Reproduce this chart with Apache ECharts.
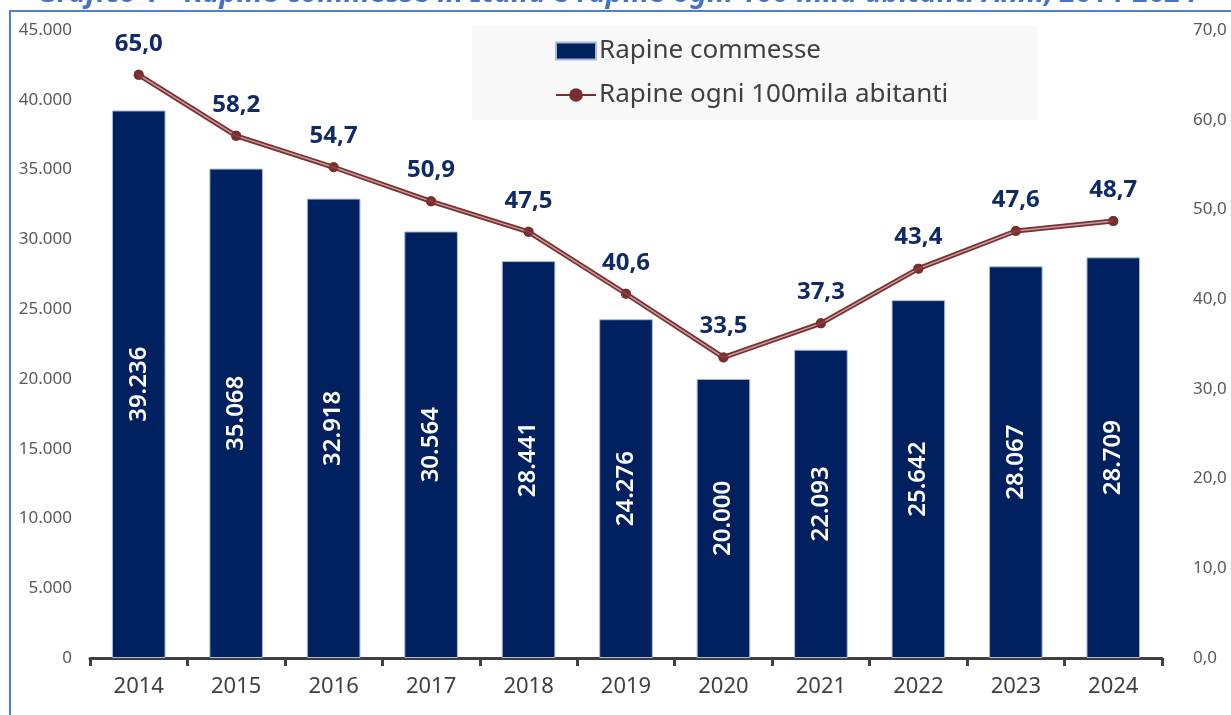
<!DOCTYPE html>
<html>
<head>
<meta charset="utf-8">
<script src="https://cdn.jsdelivr.net/npm/echarts@6/dist/echarts.min.js"></script>
<style>
  html, body { margin: 0; padding: 0; background: #fff; }
  #chart { width: 1231px; height: 715px; }
</style>
</head>
<body>
<div id="chart"></div>
<script>
// dati
var anni = ['2014', '2015', '2016', '2017', '2018', '2019', '2020', '2021', '2022', '2023', '2024'];
var rapineCommesse = [39236, 35068, 32918, 30564, 28441, 24276, 20000, 22093, 25642, 28067, 28709];
var rapineOgni100mila = [65.0, 58.2, 54.7, 50.9, 47.5, 40.6, 33.5, 37.3, 43.4, 47.6, 48.7];

var titolo = 'Grafico 1 - Rapine commesse in Italia e rapine ogni 100 mila abitanti Anni, 2014-2024';

var font = '"Noto Sans", "Open Sans", sans-serif';

function migliaia(v) {
  return String(v).replace(/\B(?=(\d{3})+(?!\d))/g, '.');
}
function decimale(v) {
  return Number(v).toFixed(1).replace('.', ',');
}

var myChart = echarts.init(document.getElementById('chart'));

var option = {
  backgroundColor: '#fff',
  animation: false,
  textStyle: { fontFamily: font },
  graphic: [
    {
      type: 'rect',
      shape: { x: 10, y: 11, width: 1300, height: 800 },
      style: { fill: 'none', stroke: '#4f7fd1', lineWidth: 2 },
      silent: true
    },
    {
      type: 'text',
      x: 37,
      y: 8,
      style: {
        text: titolo,
        fill: '#4472c4',
        font: 'italic bold 29px ' + font,
        verticalAlign: 'bottom'
      },
      silent: true
    }
  ],
  legend: {
    orient: 'vertical',
    left: 472,
    top: 26,
    backgroundColor: '#f8f8f8',
    padding: [12, 89, 12, 83],
    itemGap: 18,
    itemWidth: 40,
    itemHeight: 17,
    data: [
      { name: 'Rapine commesse', icon: 'rect' },
      { name: 'Rapine ogni 100mila abitanti' }
    ],
    textStyle: { color: '#404040', fontSize: 26, fontFamily: font, padding: [0, 0, 0, -2] }
  },
  grid: { left: 90, right: 69, top: 30, bottom: 57 },
  xAxis: {
    type: 'category',
    data: anni,
    axisLine: { lineStyle: { color: '#404040', width: 3 } },
    axisTick: { show: true, length: 8, lineStyle: { color: '#404040', width: 3 } },
    axisLabel: { color: '#404040', fontSize: 22, margin: 18 }
  },
  yAxis: [
    {
      type: 'value',
      min: 0,
      max: 45000,
      interval: 5000,
      splitLine: { show: false },
      axisLine: { show: false },
      axisTick: { show: false },
      axisLabel: { color: '#595959', fontSize: 17, margin: 18, formatter: migliaia }
    },
    {
      type: 'value',
      min: 0,
      max: 70,
      interval: 10,
      position: 'right',
      splitLine: { show: false },
      axisLine: { show: false },
      axisTick: { show: false },
      axisLabel: { color: '#595959', fontSize: 17, margin: 31, align: 'left', formatter: decimale }
    }
  ],
  series: [
    {
      name: 'Rapine commesse',
      type: 'bar',
      barWidth: '55%',
      data: rapineCommesse,
      itemStyle: { color: '#002060', borderColor: '#a9b9d6', borderWidth: 1 },
      label: {
        show: true,
        position: 'inside',
        rotate: 90,
        color: '#ffffff',
        fontSize: 24,
        fontWeight: 600,
        formatter: function (p) { return migliaia(p.value); }
      },
      z: 2
    },
    {
      name: 'Rapine ogni 100mila abitanti',
      type: 'line',
      yAxisIndex: 1,
      data: rapineOgni100mila,
      symbol: 'circle',
      symbolSize: 10,
      lineStyle: { color: '#7a3030', width: 5 },
      itemStyle: { color: '#7a2e2e' },
      label: {
        show: true,
        position: 'top',
        distance: 14,
        color: '#0f2a66',
        fontSize: 24,
        fontWeight: 'bold',
        formatter: function (p) { return decimale(p.value); }
      },
      z: 3
    },
    {
      // linea chiara interna (effetto doppia linea)
      name: 'interno',
      type: 'line',
      yAxisIndex: 1,
      data: rapineOgni100mila,
      symbol: 'none',
      silent: true,
      lineStyle: { color: '#c99d9d', width: 1.5 },
      z: 4
    },
    {
      name: 'marker',
      type: 'scatter',
      yAxisIndex: 1,
      data: rapineOgni100mila,
      symbol: 'circle',
      symbolSize: 10,
      silent: true,
      itemStyle: { color: '#7a2e2e' },
      z: 5
    }
  ]
};

myChart.setOption(option);
</script>
</body>
</html>
